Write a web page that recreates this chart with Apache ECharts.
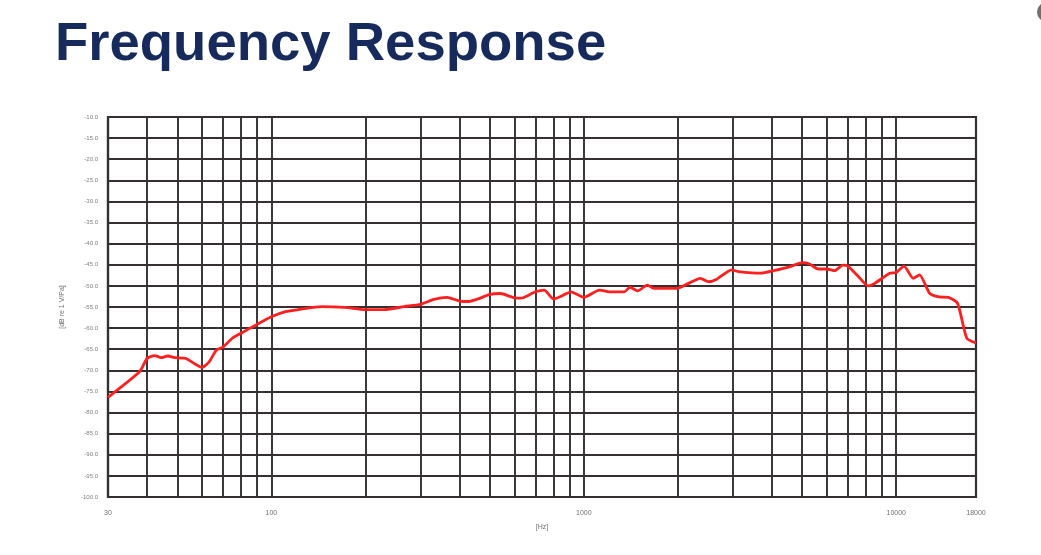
<!DOCTYPE html>
<html>
<head>
<meta charset="utf-8">
<script src="https://cdn.jsdelivr.net/npm/echarts@6/dist/echarts.min.js"></script>
<style>
html,body{margin:0;padding:0;background:#fff;}
#chart{width:1041px;height:555px;}
</style>
</head>
<body>
<div id="chart"></div>
<script>
// ---- data ----
const titleText = 'Frequency Response';
const xAxisName = '[Hz]';
const yAxisName = '[dB re 1 V/Pa]';
const xMin = 30, xMax = 18000;
const yMin = -100, yMax = -10, yStep = 5;
const gridFreqs = [40, 50, 60, 70, 80, 90, 100, 200, 300, 400, 500, 600, 700, 800, 900,
  1000, 2000, 3000, 4000, 5000, 6000, 7000, 8000, 9000, 10000];
const freqHz = [30, 37.9, 40, 42.3, 44.4, 46.6, 49, 53.3, 60, 63.2,
  66.7, 70, 75, 80, 89, 100, 111, 122, 145, 172,
  200, 230, 266, 300, 331, 365, 400, 428, 466, 500,
  540, 609, 639, 700, 747, 800, 855, 910, 1000, 1122,
  1209, 1348, 1405, 1485, 1596, 1674, 1990, 2163, 2359, 2508,
  2665, 2970, 3118, 3693, 4050, 4552, 5000, 5277, 5620, 6000,
  6354, 6750, 7000, 7550, 8130, 8535, 9528, 10000, 10588, 11330,
  11870, 12805, 13716, 14676, 15704, 16820, 18000];
const responseDb = [-76.4, -70.3, -67.2, -66.5, -67.0, -66.6, -67.0, -67.2, -69.3, -68.0,
  -65.2, -64.5, -62.4, -61.2, -59.3, -57.3, -56.1, -55.6, -54.9, -55.1,
  -55.6, -55.6, -54.9, -54.4, -53.2, -52.7, -53.6, -53.7, -52.9, -52.0,
  -51.8, -52.9, -52.8, -51.4, -51.0, -53.1, -52.3, -51.4, -52.7, -51.0,
  -51.4, -51.4, -50.3, -51.2, -49.8, -50.6, -50.6, -49.4, -48.2, -49.0,
  -48.4, -46.2, -46.6, -47.0, -46.4, -45.5, -44.5, -44.8, -46.0, -46.0,
  -46.4, -45.1, -45.3, -47.7, -50.0, -49.4, -47.0, -46.8, -45.3, -48.2,
  -47.4, -51.8, -52.6, -52.7, -54.1, -62.4, -63.5];

// ---- chart ----
const gridColor = '#353030';
const labelFont = 'Liberation Sans, Arial, sans-serif';
const chart = echarts.init(document.getElementById('chart'), null, {renderer: 'canvas'});
chart.setOption({
  animation: false,
  backgroundColor: '#ffffff',
  title: {
    text: titleText,
    left: 50, top: 12,
    textStyle: {fontFamily: labelFont, fontWeight: 'bold', fontSize: 54.5, color: '#162a5b'}
  },
  graphic: [{
    type: 'circle', shape: {cx: 1047, cy: 12, r: 10}, style: {fill: '#6f6f6f'}, silent: true
  }],
  grid: {left: 108, right: 65, top: 117, bottom: 58, show: true, borderColor: gridColor, borderWidth: 2.2, backgroundColor: 'transparent'},
  xAxis: {
    type: 'log', logBase: 10, min: xMin, max: xMax,
    name: xAxisName, nameLocation: 'middle', nameGap: 27,
    nameTextStyle: {fontSize: 7, color: '#707070', fontFamily: labelFont},
    axisLine: {show: true, lineStyle: {color: gridColor, width: 2.2}},
    axisTick: {show: false},
    splitLine: {show: false},
    axisLabel: {fontSize: 7, color: '#707070', margin: 13, fontFamily: labelFont,
      showMinLabel: true, showMaxLabel: true,
      formatter: v => String(Math.round(v))}
  },
  yAxis: {
    type: 'value', min: yMin, max: yMax, interval: yStep,
    name: yAxisName, nameLocation: 'middle', nameGap: 42, nameRotate: 90,
    nameTextStyle: {fontSize: 7, color: '#707070', fontFamily: labelFont},
    axisLine: {show: true, lineStyle: {color: gridColor, width: 2.2}},
    axisTick: {show: false},
    splitLine: {show: true, lineStyle: {color: gridColor, width: 1.9}},
    axisLabel: {fontSize: 6, color: '#808080', margin: 10, fontFamily: labelFont,
      formatter: v => v.toFixed(1)}
  },
  series: [
    {
      type: 'line', data: [], z: 1, silent: true,
      markLine: {
        silent: true, symbol: ['none', 'none'], animation: false,
        label: {show: false},
        lineStyle: {color: gridColor, width: 1.9, type: 'solid'},
        data: gridFreqs.map(f => ({xAxis: f}))
      }
    },
    {
      type: 'line', z: 5,
      data: freqHz.map((f, i) => [f, responseDb[i]]),
      showSymbol: false, symbol: 'none', smooth: 0.2,
      lineStyle: {color: '#ff1f1f', width: 2.8}
    }
  ]
});
</script>
</body>
</html>
